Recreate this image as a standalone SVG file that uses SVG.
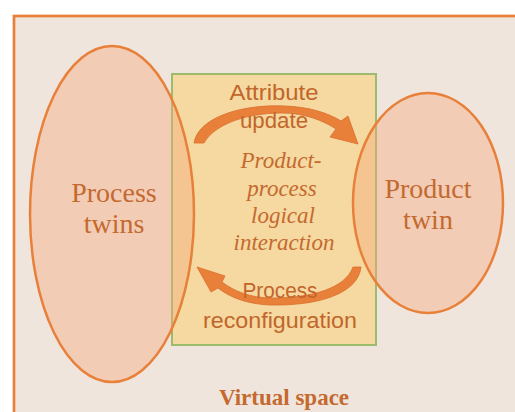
<svg xmlns="http://www.w3.org/2000/svg" width="515" height="412" viewBox="0 0 515 412">
<style>
.twin{fill:#F4A77A;fill-opacity:0.4;stroke:#E8803A;stroke-width:2.5}
.arrow{fill:#E8803A;stroke:#D96F2C;stroke-width:0.8}
.sans{font-family:"Liberation Sans",Arial,sans-serif;font-size:22px;fill:#C2652B;text-anchor:middle}
.serif{font-family:"Liberation Serif","Times New Roman",serif;fill:#C4692F;text-anchor:middle}
.it{font-style:italic;font-size:23px}
.big{font-size:28px}
</style>
<rect width="515" height="412" fill="#FFFFFF"/>
<g id="virtual-space">
<rect x="14" y="16" width="520" height="420" fill="#F0E5DD" stroke="#E8803A" stroke-width="2.7"/>
<text class="serif" x="284" y="405" font-size="23" font-weight="bold" fill="#C0621F">Virtual space</text>
</g>
<g id="interaction-box">
<rect x="172" y="74" width="204" height="271" fill="#F5D9A0" stroke="#9CBB6C" stroke-width="2"/>
</g>
<g id="process-twins">
<ellipse class="twin" cx="112" cy="214" rx="82" ry="168"/>
<text class="serif big" x="114" y="202">Process</text>
<text class="serif big" x="114" y="233">twins</text>
</g>
<g id="product-twin">
<ellipse class="twin" cx="428" cy="203" rx="75" ry="110"/>
<text class="serif big" x="428" y="198">Product</text>
<text class="serif big" x="428" y="229">twin</text>
</g>
<g id="interaction-label">
<text class="serif it" x="281" y="168">Product-</text>
<text class="serif it" x="282" y="196">process</text>
<text class="serif it" x="283" y="223">logical</text>
<text class="serif it" x="284" y="250">interaction</text>
</g>
<g id="connectors">
<path class="arrow" d="M194,143 C198,118 240,104 285,106 C310,107 328,113 341,121 L348,116 L358,144 L330,137 L336,129 C324,121 305,113 282,113 C245,113 214,125 204,143 Z"/>
<path class="arrow" d="M361,267 C358,295 315,306 270,305 C245,304 228,296 218,288 L211,292 L197,267 L225,276 L222,282 C234,291 250,298 272,298 C310,298 345,289 353,267 Z"/>
<text class="sans" x="274" y="100" textLength="89" lengthAdjust="spacingAndGlyphs">Attribute</text>
<text class="sans" x="274" y="128" textLength="68" lengthAdjust="spacingAndGlyphs">update</text>
<text class="sans" x="280" y="298" textLength="75" lengthAdjust="spacingAndGlyphs">Process</text>
<text class="sans" x="280" y="328" textLength="154" lengthAdjust="spacingAndGlyphs">reconfiguration</text>
</g>
</svg>
